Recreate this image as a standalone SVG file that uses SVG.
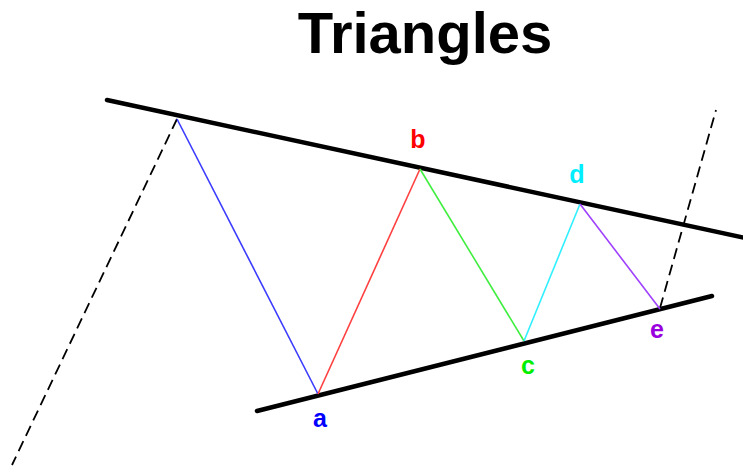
<svg xmlns="http://www.w3.org/2000/svg" width="743" height="468" viewBox="0 0 743 468">
<style>
.trend{stroke:#000;stroke-width:4.5;stroke-linecap:round;fill:none}
.dash{stroke:#000;stroke-width:1.8;stroke-dasharray:11 6;fill:none}
.leg{stroke-width:1.6;fill:none}
.lbl{font-family:"Liberation Sans",Arial,sans-serif;font-weight:bold;font-size:25px;text-anchor:middle}
.title{font-family:"Liberation Sans",Arial,sans-serif;font-weight:bold;font-size:58px;text-anchor:middle}
</style>
<rect width="743" height="468" fill="#fff"/>
<text class="title" x="425" y="53">Triangles</text>
<g id="connectors">
<line class="dash" x1="177" y1="119" x2="12" y2="465"/>
<line class="dash" x1="660" y1="308" x2="716" y2="110"/>
<line class="trend" x1="107" y1="100" x2="745" y2="238"/>
<line class="trend" x1="257" y1="411" x2="712" y2="296"/>
<line class="leg" stroke="#3b3bff" x1="177" y1="119" x2="318" y2="394"/>
<line class="leg" stroke="#ff4040" x1="318" y1="394" x2="420" y2="169"/>
<line class="leg" stroke="#40ee40" x1="420" y1="169" x2="524" y2="341"/>
<line class="leg" stroke="#30f0ff" x1="524" y1="341" x2="580" y2="204"/>
<line class="leg" stroke="#a040ff" x1="580" y1="204" x2="660" y2="309"/>
</g>
<g id="node-a"><text class="lbl" x="320" y="427" fill="#0000ff">a</text></g>
<g id="node-b"><text class="lbl" x="418" y="148" fill="#ff0000">b</text></g>
<g id="node-c"><text class="lbl" x="528" y="374" fill="#00ee00">c</text></g>
<g id="node-d"><text class="lbl" x="577" y="183" fill="#00eeff">d</text></g>
<g id="node-e"><text class="lbl" x="657" y="338" fill="#9900dd">e</text></g>
</svg>
